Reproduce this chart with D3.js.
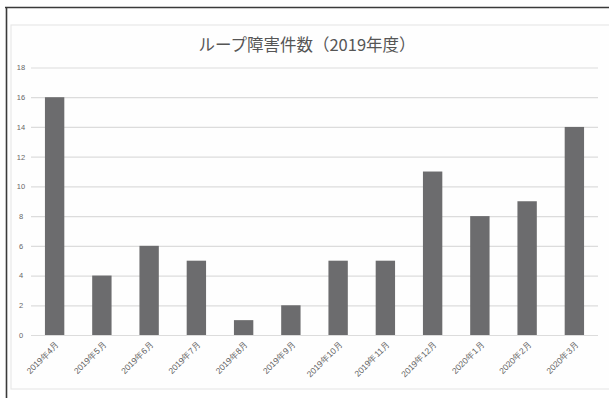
<!DOCTYPE html>
<html>
<head>
<meta charset="utf-8">
<script src="https://cdn.jsdelivr.net/npm/d3@7"></script>
<style>
  html, body { margin: 0; padding: 0; background: #ffffff; }
  svg { display: block; font-family: "Noto Sans CJK JP", "Noto Sans", sans-serif; }
</style>
</head>
<body>
<svg id="chart" width="609" height="398"></svg>
<script>
// Monthly loop failure counts, fiscal 2019
const months = ["2019年4月","2019年5月","2019年6月","2019年7月","2019年8月","2019年9月",
                "2019年10月","2019年11月","2019年12月","2020年1月","2020年2月","2020年3月"];
const counts = [16, 4, 6, 5, 1, 2, 5, 5, 11, 8, 9, 14];
const yTicks = [0, 2, 4, 6, 8, 10, 12, 14, 16, 18];
const title = "ループ障害件数（2019年度）";

const svg = d3.select("#chart");

// outer frame (top and left rules) and inner chart area box
svg.append("rect").attr("x", 11).attr("y", 25).attr("width", 620).attr("height", 364)
  .attr("fill", "#fefefe").attr("stroke", "#e8e8e8").attr("stroke-width", 1.2);
svg.append("line").attr("x1", 5).attr("x2", 609).attr("y1", 7.5).attr("y2", 7.5)
  .attr("stroke", "#3a3a3a").attr("stroke-width", 1.6);
svg.append("line").attr("x1", 6.5).attr("x2", 6.5).attr("y1", 7).attr("y2", 398)
  .attr("stroke", "#3a3a3a").attr("stroke-width", 1.6);

const x = d3.scaleBand().domain(months).range([31, 598]).paddingInner(0.59).paddingOuter(0.295);
const y = d3.scaleLinear().domain([0, 18]).range([335, 67.5]);

// horizontal gridlines
svg.append("g").selectAll("line").data(yTicks).join("line")
  .attr("x1", 31).attr("x2", 598)
  .attr("y1", d => y(d) + 0.5).attr("y2", d => y(d) + 0.5)
  .attr("stroke", "#dcdcdc").attr("stroke-width", 1.2);

// y axis labels
const yAxis = d3.axisLeft(y).tickValues(yTicks).tickSize(0).tickPadding(0);
svg.append("g").attr("transform", "translate(21,0)").call(yAxis)
  .call(g => g.select(".domain").remove())
  .call(g => g.selectAll("text").attr("fill", "#666").attr("font-size", 7.5)
    .attr("text-anchor", "middle"));

// bars
svg.append("g").selectAll("rect").data(counts).join("rect")
  .attr("x", (d, i) => x(months[i]))
  .attr("y", d => y(d))
  .attr("width", x.bandwidth())
  .attr("height", d => y(0) - y(d))
  .attr("fill", "#6c6c6e");

// x axis labels, rotated
const xAxis = d3.axisBottom(x).tickSize(0).tickPadding(0);
svg.append("g").attr("transform", "translate(0,335)").call(xAxis)
  .call(g => g.select(".domain").remove())
  .call(g => g.selectAll("text")
    .attr("fill", "#606060").attr("font-size", 8.5)
    .attr("text-anchor", "end")
    .attr("dy", 0)
    .attr("transform", "translate(5,10) rotate(-45)"));

// title
svg.append("text").attr("x", 307).attr("y", 51).attr("text-anchor", "middle")
  .attr("font-size", 16.5).attr("fill", "#555").text(title);
</script>
</body>
</html>
